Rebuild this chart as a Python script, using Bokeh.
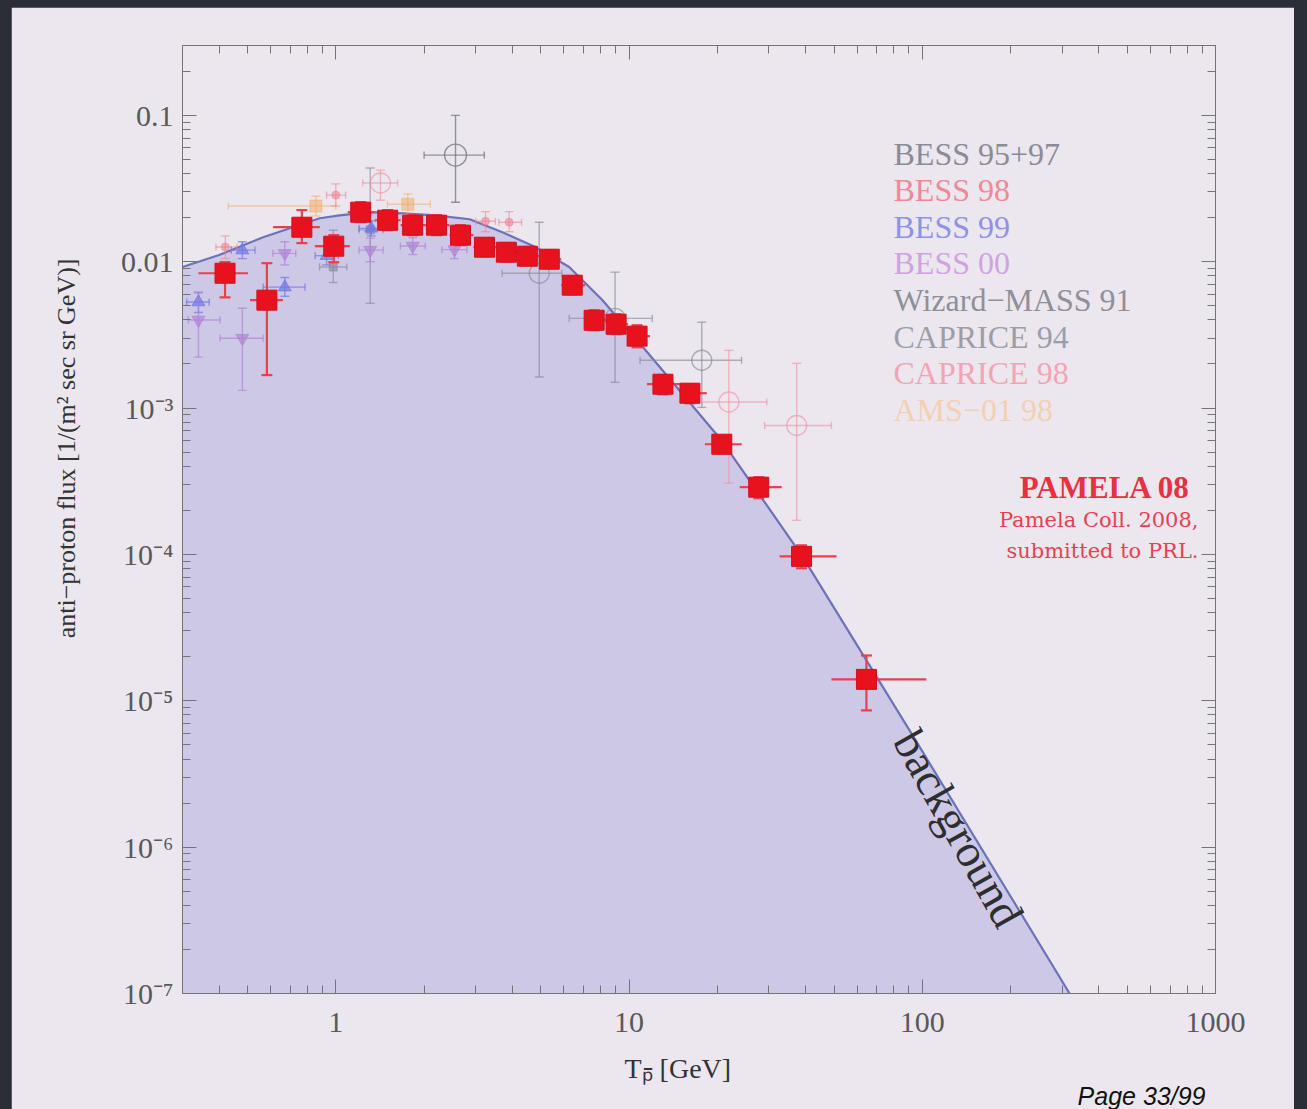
import math
from bokeh.plotting import figure
from bokeh.models import (Label, Title, LogAxis, FixedTicker, CustomJSTickFormatter, Range1d,
                          GlobalInlineStyleSheet)
from bokeh.embed import file_html
from bokeh.resources import INLINE

# ---------------- tick labels ----------------
x_major = [1, 10, 100, 1000]
x_labels = ["1", "10", "100", "1000"]
y_major = [1e-7, 1e-6, 1e-5, 1e-4, 1e-3, 1e-2, 1e-1]
y_labels = ["10⁻⁷", "10⁻⁶", "10⁻⁵", "10⁻⁴", "10⁻³", "0.01", "0.1"]

# ---------------- background (secondary anti-protons) ----------------
bg_x = [0.30, 0.40, 0.565, 0.714, 0.882, 1.03, 1.30, 1.69, 2.19, 2.86, 3.70, 4.79,
        6.25, 8.09, 11.35, 20.7, 39.0, 90.4, 318.0, 400.0]
bg_y = [0.0092, 0.0111, 0.0147, 0.0172, 0.0198, 0.0207, 0.0218, 0.0214, 0.0207, 0.0195,
        0.0159, 0.0126, 0.0092, 0.0055, 0.0025, 0.00060, 9.7e-5, 6.3e-6, 1.0e-7, 4.7e-8]

# ---------------- PAMELA 08 ----------------
pam_x = [0.419, 0.582, 0.766, 0.984, 1.216, 1.503, 1.828, 2.206, 2.662, 3.213, 3.816, 4.499,
         5.345, 6.400, 7.603, 9.033, 10.65, 13.05, 16.13, 20.72, 27.69, 38.76, 64.5]
pam_xlo = [0.340, 0.510, 0.611, 0.848, 1.098, 1.357, 1.664, 2.024, 2.442, 2.947, 3.529, 4.193,
           4.943, 5.871, 7.086, 8.352, 9.922, 11.51, 14.91, 18.14, 23.85, 32.63, 49.0]
pam_xhi = [0.502, 0.660, 0.882, 1.116, 1.357, 1.664, 2.024, 2.442, 2.947, 3.529, 4.193, 4.943,
           5.871, 7.086, 8.352, 9.922, 11.79, 14.91, 18.42, 24.23, 33.15, 51.0, 103.2]
pam_y = [0.00834, 0.00546, 0.0172, 0.01276, 0.0218, 0.0192, 0.01776, 0.01776, 0.01517, 0.01256,
         0.01161, 0.01090, 0.01040, 0.00691, 0.00398, 0.00374, 0.00310, 0.001455, 0.001263,
         0.000566, 0.000288, 9.70e-5, 1.40e-5]
pam_ylo = [0.00571, 0.00168, 0.01338, 0.00992, 0.0186, 0.0164, 0.01517, 0.01517, 0.01297, 0.01090,
           0.01008, 0.00946, 0.00903, 0.00600, 0.00340, 0.00320, 0.00260, 0.001243, 0.001078,
           0.000491, 0.000242, 8.04e-5, 8.6e-6]
pam_yhi = [0.00992, 0.00977, 0.0225, 0.01517, 0.0255, 0.0225, 0.0208, 0.0208, 0.01776, 0.01447,
           0.01338, 0.01256, 0.01198, 0.00796, 0.00466, 0.00438, 0.00368, 0.00168, 0.001455,
           0.000641, 0.000337, 1.154e-4, 2.04e-5]

# ---------------- older experiments ----------------
bess9597_x = [0.98, 1.31]
bess9597_y = [0.0092, 0.0165]
bess9597_xlo = [0.88, 1.20]
bess9597_xhi = [1.09, 1.45]
bess9597_ylo = [0.0072, 0.0052]
bess9597_yhi = [0.0164, 0.0437]

bess98_x = [0.42, 1.0, 3.24, 3.9]
bess98_y = [0.0126, 0.0285, 0.0189, 0.0186]
bess98_xlo = [0.39, 0.93, 3.0, 3.6]
bess98_xhi = [0.46, 1.08, 3.5, 4.3]
bess98_ylo = [0.0105, 0.024, 0.016, 0.016]
bess98_yhi = [0.0150, 0.034, 0.022, 0.022]

bess99_x = [0.34, 0.48, 0.67, 0.93, 1.32]
bess99_y = [0.0053, 0.0120, 0.0067, 0.0110, 0.0169]
bess99_xlo = [0.31, 0.44, 0.565, 0.85, 1.20]
bess99_xhi = [0.37, 0.53, 0.785, 1.02, 1.45]
bess99_ylo = [0.0045, 0.0105, 0.0058, 0.0095, 0.0150]
bess99_yhi = [0.0062, 0.0137, 0.0078, 0.0128, 0.0190]

bess00_x = [0.34, 0.48, 0.67, 1.31, 1.83, 2.54]
bess00_y = [0.0040, 0.0030, 0.0114, 0.0120, 0.0128, 0.0121]
bess00_xlo = [0.314, 0.403, 0.61, 1.20, 1.66, 2.30]
bess00_xhi = [0.403, 0.565, 0.73, 1.45, 2.02, 2.80]
bess00_ylo = [0.00223, 0.00132, 0.0095, 0.0100, 0.0112, 0.0105]
bess00_yhi = [0.0061, 0.00481, 0.0137, 0.0145, 0.0146, 0.0139]

wizard_x = [2.56]
wizard_y = [0.0535]
wizard_xlo = [2.0]
wizard_xhi = [3.21]
wizard_ylo = [0.0255]
wizard_yhi = [0.100]

caprice94_x = [4.94, 8.96, 17.7]
caprice94_y = [0.00834, 0.0041, 0.00212]
caprice94_xlo = [3.69, 6.25, 10.9]
caprice94_xhi = [5.9, 12.0, 24.2]
caprice94_ylo = [0.00163, 0.0015, 0.00101]
caprice94_yhi = [0.0186, 0.00848, 0.00386]

caprice98_x = [1.42, 21.9, 37.3]
caprice98_y = [0.0345, 0.00110, 0.00076]
caprice98_xlo = [1.235, 17.7, 29.0]
caprice98_xhi = [1.625, 29.5, 49.0]
caprice98_ylo = [0.0263, 0.000307, 0.000171]
caprice98_yhi = [0.0422, 0.00248, 0.00202]

ams_x = [0.855, 1.76]
ams_y = [0.0240, 0.0247]
ams_xlo = [0.43, 1.50]
ams_xhi = [1.00, 2.10]
ams_ylo = [0.0205, 0.021]
ams_yhi = [0.028, 0.029]

legend_names = ["BESS 95+97", "BESS 98", "BESS 99", "BESS 00", "Wizard−MASS 91",
                "CAPRICE 94", "CAPRICE 98", "AMS−01 98"]

# ---------------- style ----------------
PANEL = "#ece7ef"
FILL = "#cec8e7"
CURVE = "#6b72b9"
RED = "#e8121f"
RED_T = "#e8404f"
AXC = "#747474"
SERIF = "Liberation Serif"

legend_colors = ["#8b8b98", "#f08898", "#8e92e8", "#d0a2e2", "#8f8f98", "#9d9da5",
                 "#f4a3b5", "#f5cfb3"]

p = figure(x_axis_type="log", y_axis_type="log",
           x_range=Range1d(0.3, 1000), y_range=Range1d(1e-7, 0.3),
           frame_width=1033, frame_height=948,
           min_border_left=171, min_border_right=79, min_border_top=38, min_border_bottom=116,
           output_backend="svg", toolbar_location=None,
           background_fill_color=PANEL, border_fill_color=PANEL)
p.grid.visible = False
p.outline_line_color = AXC
p.outline_line_width = 1

x_minor = [k * 10.0 ** d for d in range(-1, 3) for k in range(2, 10) if 0.3 <= k * 10.0 ** d <= 1000]
y_minor = [k * 10.0 ** d for d in range(-8, 0) for k in range(2, 10) if 1e-7 <= k * 10.0 ** d <= 0.3]

fmt_code = """
const lt = Math.log10(tick);
for (let i = 0; i < vals.length; i++) {
  if (Math.abs(Math.log10(vals[i]) - lt) < 1e-6) return labs[i];
}
return '';
"""
x_fmt = CustomJSTickFormatter(args=dict(vals=x_major, labs=x_labels), code=fmt_code)
y_fmt = CustomJSTickFormatter(args=dict(vals=y_major, labs=y_labels), code=fmt_code)
blank_fmt = CustomJSTickFormatter(code="return '';")


def style_axis(ax):
    ax.axis_line_color = AXC
    ax.major_tick_line_color = AXC
    ax.minor_tick_line_color = AXC
    ax.major_tick_in = 14
    ax.major_tick_out = 0
    ax.minor_tick_in = 8
    ax.minor_tick_out = 0
    ax.major_label_text_font = SERIF
    ax.major_label_text_font_size = "30px"
    ax.major_label_text_color = "#595959"


xb = p.xaxis[0]
xb.ticker = FixedTicker(ticks=x_major, minor_ticks=x_minor)
xb.formatter = x_fmt
style_axis(xb)
xb.major_label_standoff = 19

yl = p.yaxis[0]
yl.ticker = FixedTicker(ticks=y_major, minor_ticks=y_minor)
yl.formatter = y_fmt
style_axis(yl)
yl.major_label_standoff = 9

xt = LogAxis(ticker=FixedTicker(ticks=x_major, minor_ticks=x_minor), formatter=blank_fmt)
style_axis(xt)
xt.major_label_text_font_size = "1px"
p.add_layout(xt, "above")
yr = LogAxis(ticker=FixedTicker(ticks=y_major, minor_ticks=y_minor), formatter=blank_fmt)
style_axis(yr)
yr.major_label_text_font_size = "1px"
p.add_layout(yr, "right")

# axis titles and page number as side-panel titles
p.add_layout(Title(text="anti−proton flux [1/(m² sec sr GeV)]", align="right", offset=213,
                   standoff=72, vertical_align="middle", text_font=SERIF,
                   text_font_size="26px", text_font_style="normal", text_color="#333333"),
             "left")
p.add_layout(Title(text="T\u209a\u0304 [GeV]", align="left", offset=442, standoff=34,
                   vertical_align="middle", text_font=SERIF, text_font_size="28px",
                   text_font_style="normal", text_color="#333333"), "below")
p.add_layout(Title(text="Page 33/99", align="right", offset=10, standoff=-39,
                   vertical_align="top", text_font="Liberation Sans Narrow, Liberation Sans",
                   text_font_size="25px", text_font_style="italic", text_color="#111111"),
             "below")

# background fill + curve
p.varea(x=bg_x, y1=[1e-9] * len(bg_x), y2=bg_y, fill_color=FILL, fill_alpha=1.0)
p.line(bg_x, bg_y, line_color=CURVE, line_width=2.2)


def draw_series(xs, ys, xlo, xhi, ylo, yhi, color, marker, size, filled=True, lw=1.4,
                alpha=0.6, cap=9):
    p.segment(x0=xlo, y0=ys, x1=xhi, y1=ys, line_color=color, line_width=lw, line_alpha=alpha)
    p.segment(x0=xs, y0=ylo, x1=xs, y1=yhi, line_color=color, line_width=lw, line_alpha=alpha)
    p.scatter(x=xs + xs, y=ylo + yhi, marker="dash", size=cap, line_color=color,
              line_width=lw, line_alpha=alpha)
    p.scatter(x=xlo + xhi, y=ys + ys, marker="dash", size=cap * 0.8, angle=math.pi / 2,
              line_color=color, line_width=lw, line_alpha=alpha)
    if filled:
        p.scatter(x=xs, y=ys, marker=marker, size=size, fill_color=color, line_color=color,
                  fill_alpha=alpha, line_alpha=alpha)
    else:
        p.scatter(x=xs, y=ys, marker=marker, size=size, fill_color=None, line_color=color,
                  line_width=lw, line_alpha=alpha)


draw_series(ams_x, ams_y, ams_xlo, ams_xhi, ams_ylo, ams_yhi, "#f3ad6a", "square", 12, alpha=0.55)
draw_series(bess9597_x, bess9597_y, bess9597_xlo, bess9597_xhi, bess9597_ylo, bess9597_yhi,
            "#85859a", "square", 8)
draw_series(bess98_x, bess98_y, bess98_xlo, bess98_xhi, bess98_ylo, bess98_yhi,
            "#ee7f90", "circle", 8, alpha=0.55)
draw_series(bess99_x, bess99_y, bess99_xlo, bess99_xhi, bess99_ylo, bess99_yhi,
            "#6f76e4", "triangle", 13, alpha=0.7)
draw_series(bess00_x, bess00_y, bess00_xlo, bess00_xhi, bess00_ylo, bess00_yhi,
            "#b083d6", "inverted_triangle", 13, alpha=0.7)
draw_series(wizard_x, wizard_y, wizard_xlo, wizard_xhi, wizard_ylo, wizard_yhi,
            "#7c7c86", "circle", 22, filled=False, alpha=0.8)
draw_series(caprice94_x, caprice94_y, caprice94_xlo, caprice94_xhi, caprice94_ylo, caprice94_yhi,
            "#8a8a94", "circle", 20, filled=False, alpha=0.65)
draw_series(caprice98_x, caprice98_y, caprice98_xlo, caprice98_xhi, caprice98_ylo, caprice98_yhi,
            "#f08ea2", "circle", 20, filled=False, alpha=0.6)

# PAMELA 08
p.segment(x0=pam_xlo, y0=pam_y, x1=pam_xhi, y1=pam_y, line_color=RED_T, line_width=2.2)
p.segment(x0=pam_x, y0=pam_ylo, x1=pam_x, y1=pam_yhi, line_color=RED_T, line_width=2.2)
p.scatter(x=pam_x + pam_x, y=pam_ylo + pam_yhi, marker="dash", size=11, line_color=RED_T,
          line_width=2.2)
p.scatter(x=pam_x, y=pam_y, marker="square", size=20, fill_color=RED, line_color="#d0101c",
          line_width=1)

# ---------------- texts inside the frame (px from the frame's bottom-left) ----------------
for i, (name, col) in enumerate(zip(legend_names, legend_colors)):
    p.add_layout(Label(x=711, y=840 - 36.6 * i, x_units="screen", y_units="screen",
                       text=name, text_font=SERIF, text_font_size="32px", text_color=col,
                       text_baseline="middle", text_align="left"))

p.add_layout(Label(x=1008, y=506, x_units="screen", y_units="screen", text="PAMELA 08",
                   text_font=SERIF, text_font_style="bold", text_font_size="31px",
                   text_color="#e8303f", text_align="right", text_baseline="middle"))
p.add_layout(Label(x=1016, y=474, x_units="screen", y_units="screen", text="Pamela Coll. 2008,",
                   text_font="DejaVu Serif", text_font_size="21px", text_color=RED_T,
                   text_align="right", text_baseline="middle"))
p.add_layout(Label(x=1016, y=443, x_units="screen", y_units="screen", text="submitted to PRL.",
                   text_font="DejaVu Serif", text_font_size="21px", text_color=RED_T,
                   text_align="right", text_baseline="middle"))

p.add_layout(Label(x=776, y=165, x_units="screen", y_units="screen", text="background",
                   angle=-1.06, text_font=SERIF, text_font_size="46px", text_color="#2e2e2e",
                   text_align="center", text_baseline="middle"))

p.styles = {"margin-left": "11px", "margin-top": "7px"}
p.stylesheets = [GlobalInlineStyleSheet(
    css="html, body { background-color: #2b2e37; overflow: hidden; }")]

open("out.html", "w").write(file_html(p, INLINE))
